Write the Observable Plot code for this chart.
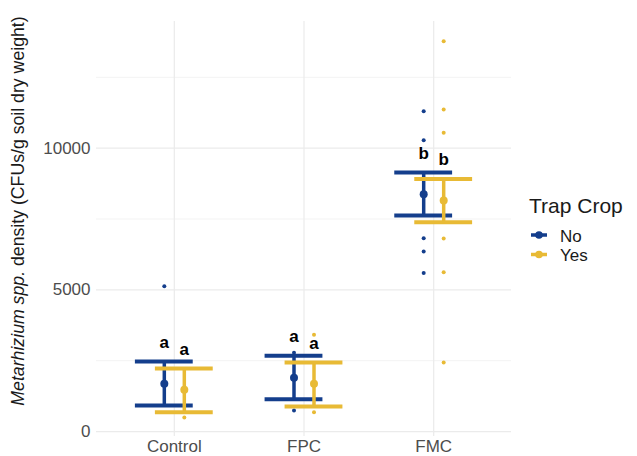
<!DOCTYPE html>
<html>
<head>
<meta charset="utf-8">
<script src="https://cdn.jsdelivr.net/npm/d3@7"></script>
<script src="https://cdn.jsdelivr.net/npm/@observablehq/plot@0.6"></script>
<style>
  html, body { margin: 0; padding: 0; background: #fff; }
  #wrap { position: relative; width: 637px; height: 456px; font-family: "Liberation Sans", Arial, sans-serif; }
</style>
</head>
<body>
<div id="wrap"></div>
<script>
const categories = ["Control", "FPC", "FMC"];
const groups = ["No", "Yes"];
const colors = ["#143E8C", "#E8BA35"];

const meanNo  = [1685, 1897, 8375];
const meanYes = [1473, 1685, 8151];
const upperNo  = [2473, 2675, 9141];
const upperYes = [2226, 2438, 8915];
const lowerNo  = [919, 1141, 7622];
const lowerYes = [682, 883, 7385];
const lettersNo  = ["a", "a", "b"];
const lettersYes = ["a", "a", "b"];

const rawNo  = [[5124], [2780, 742], [11307, 10283, 6820, 6350, 5594]];
const rawYes = [[495], [3417, 682], [13770, 11367, 10541, 6809, 5618, 2438]];

const yTicks = [0, 5000, 10000];
const yMinor = [2500, 7500, 12500];

const summary = [];
const raw = [];
groups.forEach((g, gi) => {
  const mean = gi === 0 ? meanNo : meanYes;
  const up = gi === 0 ? upperNo : upperYes;
  const lo = gi === 0 ? lowerNo : lowerYes;
  const let_ = gi === 0 ? lettersNo : lettersYes;
  const rw = gi === 0 ? rawNo : rawYes;
  categories.forEach((c, ci) => {
    summary.push({group: g, cat: c, x: ci + 1, mean: mean[ci], upper: up[ci], lower: lo[ci], letter: let_[ci]});
    rw[ci].forEach(v => raw.push({group: g, cat: c, x: ci + 1, value: v}));
  });
});

const dodge = 10;   // px
const capHalf = 0.223; // x units

const groupMarks = groups.flatMap((g, gi) => {
  const dx = gi === 0 ? -dodge : dodge;
  const s = summary.filter(d => d.group === g);
  const col = colors[gi];
  return [
    Plot.ruleX(s, {x: "x", y1: "lower", y2: "upper", dx, stroke: col, strokeWidth: 3.5}),
    Plot.ruleY(s, {y: "upper", x1: d => d.x - capHalf, x2: d => d.x + capHalf, dx, stroke: col, strokeWidth: 4}),
    Plot.ruleY(s, {y: "lower", x1: d => d.x - capHalf, x2: d => d.x + capHalf, dx, stroke: col, strokeWidth: 4}),
    Plot.dot(s, {x: "x", y: "mean", dx, r: 4, fill: col, stroke: "none"}),
    Plot.text(s, {x: "x", y: "upper", dx, dy: -19, text: "letter", fontWeight: "bold", fontSize: 17, fill: "#000"})
  ];
});

const rawMarks = groups.map((g, gi) => Plot.dot(raw.filter(d => d.group === g), {
  x: "x", y: "value", dx: gi === 0 ? -dodge : dodge, r: 2, fill: colors[gi], stroke: "none"
}));

const plot = Plot.plot({
  width: 637,
  height: 456,
  marginLeft: 96,
  marginRight: 126,
  marginTop: 21,
  marginBottom: 20,
  style: {fontFamily: "Liberation Sans, Arial, sans-serif", fontSize: "17px", color: "#4d4d4d", background: "#fff"},
  x: {type: "linear", domain: [0.4, 3.6], ticks: [1, 2, 3], tickFormat: i => categories[i - 1], tickSize: 0, tickPadding: 3, label: null},
  y: {domain: [-175, 14470], ticks: yTicks, tickFormat: d3.format("d"), tickSize: 0, tickPadding: 6, label: null},
  marks: [
    Plot.ruleY(yMinor, {stroke: "#f3f3f3", strokeWidth: 1}),
    Plot.ruleY(yTicks, {stroke: "#ebebeb", strokeWidth: 1.2}),
    Plot.ruleX([1, 2, 3], {stroke: "#ebebeb", strokeWidth: 1.2}),
    ...rawMarks,
    ...groupMarks
  ]
});

document.getElementById("wrap").appendChild(plot);

const svg = d3.select(plot);

// y-axis title with mixed italic
const t = svg.append("text")
  .attr("transform", "translate(23.5,211) rotate(-90)")
  .attr("text-anchor", "middle")
  .attr("fill", "#1a1a1a")
  .style("font-size", "17.7px")
  .style("font-family", "Liberation Sans, Arial, sans-serif");
t.append("tspan").attr("font-style", "italic").text("Metarhizium spp.");
t.append("tspan").text(" density (CFUs/g soil dry weight)");

// legend
const leg = svg.append("g").attr("text-anchor", "start").style("font-family", "Liberation Sans, Arial, sans-serif");
leg.append("text").attr("x", 529).attr("y", 212.5).attr("fill", "#1a1a1a").style("font-size", "21px").text("Trap Crop");
const legBase = [241.5, 261];
const keyY = [235, 254.5];
groups.forEach((g, gi) => {
  leg.append("line").attr("x1", 531).attr("x2", 547).attr("y1", keyY[gi]).attr("y2", keyY[gi])
    .attr("stroke", colors[gi]).attr("stroke-width", 3.5);
  leg.append("circle").attr("cx", 539).attr("cy", keyY[gi]).attr("r", 3.8).attr("fill", colors[gi]);
  leg.append("text").attr("x", 560).attr("y", legBase[gi]).attr("fill", "#1a1a1a").style("font-size", "17px").text(g);
});
</script>
</body>
</html>
